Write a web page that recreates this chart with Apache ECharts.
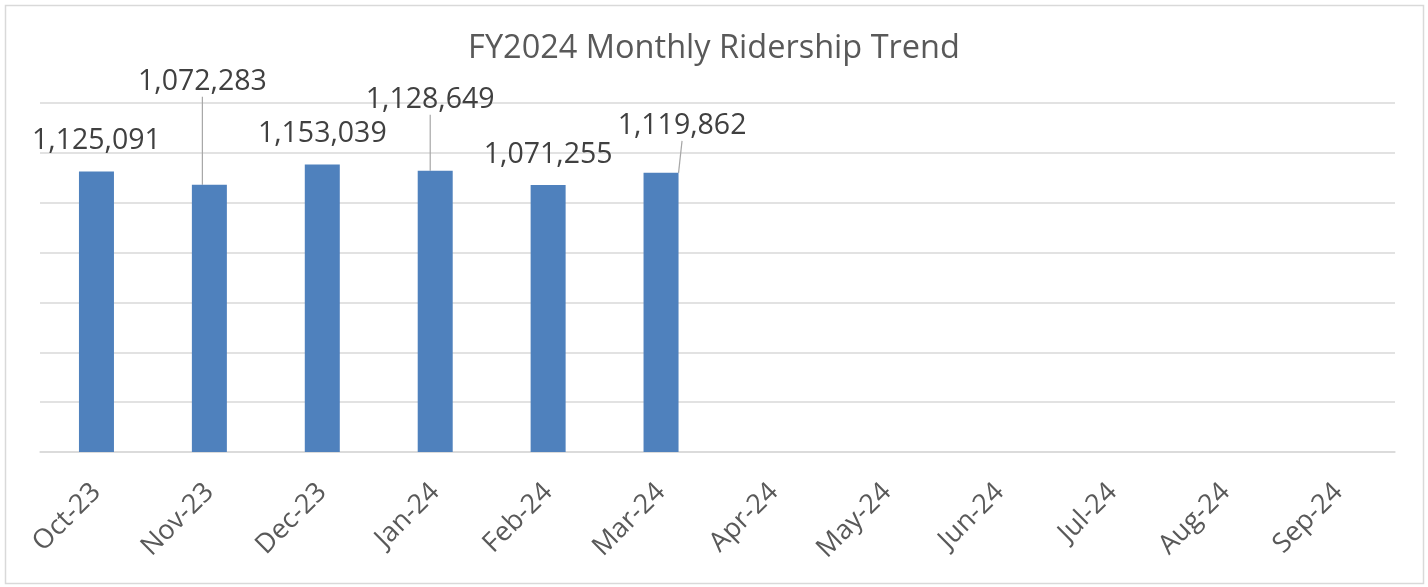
<!DOCTYPE html>
<html>
<head>
<meta charset="UTF-8">
<title>FY2024 Monthly Ridership Trend</title>
<script src="https://cdn.jsdelivr.net/npm/echarts@6/dist/echarts.min.js"></script>
<style>
  html, body { margin: 0; padding: 0; background: #fff; }
  #chart { width: 1428px; height: 587px; }
</style>
</head>
<body>
<div id="chart"></div>
<script>
// data
var months = ['Oct-23', 'Nov-23', 'Dec-23', 'Jan-24', 'Feb-24', 'Mar-24',
              'Apr-24', 'May-24', 'Jun-24', 'Jul-24', 'Aug-24', 'Sep-24'];
var riders = [1125091, 1072283, 1153039, 1128649, 1071255, 1119862,
              null, null, null, null, null, null];
var yMax = 1400000;
var yStep = 200000;

// labels that Excel pushed aside (with a leader line)
var labelShift = { 1: [-7, -72], 3: [-5, -40], 5: [21, -16] };

var myChart = echarts.init(document.getElementById('chart'));

var seriesData = riders.map(function (v, i) {
    var item = { value: v };
    if (labelShift[i]) item.labelLine = { show: true };
    return item;
});

var option = {
    animation: false,
    textStyle: { fontFamily: 'Open Sans' },
    title: {
        text: 'FY2024 Monthly Ridership Trend',
        left: 'center',
        top: 27,
        textStyle: { fontSize: 32.5, fontWeight: 'normal', color: '#595959', fontFamily: 'Open Sans' }
    },
    graphic: [{
        type: 'rect',
        shape: { x: 5.5, y: 5.5, width: 1418, height: 578 },
        style: { fill: 'none', stroke: '#D9D9D9', lineWidth: 1.5 },
        silent: true
    }],
    grid: { left: 40, right: 33, top: 103, bottom: 135 },
    xAxis: {
        type: 'category',
        data: months,
        axisLine: { lineStyle: { color: '#D9D9D9', width: 1.5 } },
        axisTick: { show: false },
        axisLabel: {
            rotate: 45,
            interval: 0,
            margin: 36,
            fontSize: 27,
            color: '#595959',
            fontFamily: 'Open Sans'
        }
    },
    yAxis: {
        type: 'value',
        min: 0,
        max: yMax,
        interval: yStep,
        axisLabel: { show: false },
        axisLine: { show: false },
        axisTick: { show: false },
        splitLine: { lineStyle: { color: '#D9D9D9', width: 1.5 } }
    },
    series: [{
        type: 'bar',
        data: seriesData,
        barWidth: 35,
        itemStyle: { color: '#4F81BD' },
        label: {
            show: true,
            position: 'top',
            distance: 16,
            fontSize: 28.5,
            color: '#404040',
            fontFamily: 'Open Sans',
            formatter: function (p) {
                return p.value == null ? '' : p.value.toLocaleString('en-US');
            }
        },
        labelLine: {
            show: false,
            lineStyle: { color: '#A6A6A6', width: 1.2 }
        },
        labelLayout: function (params) {
            var s = labelShift[params.dataIndex];
            if (!s) return {};
            return { dx: s[0], dy: s[1] };
        }
    }]
};
myChart.setOption(option);
</script>
</body>
</html>
